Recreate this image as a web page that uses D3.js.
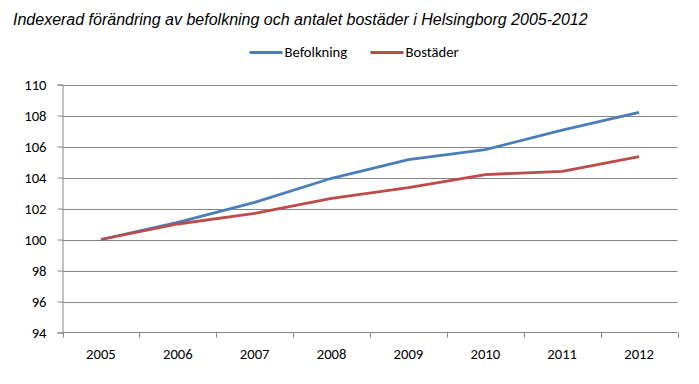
<!DOCTYPE html>
<html><head><meta charset="utf-8">
<script src="https://cdn.jsdelivr.net/npm/d3@7"></script>
<style>body{margin:0;background:#fff}svg{display:block}</style>
</head><body>
<svg id="c" width="699" height="384"></svg>
<script>
const years = ["2005","2006","2007","2008","2009","2010","2011","2012"];
const befolkning = [100, 101.1, 102.4, 103.95, 105.15, 105.8, 107.05, 108.2];
const bostader = [100, 101.0, 101.68, 102.66, 103.35, 104.19, 104.4, 105.35];
const yTicks = [94, 96, 98, 100, 102, 104, 106, 108, 110];
const seriesNames = ["Befolkning", "Bostäder"];
const colors = ["#4A7EBB", "#BE4B48"];

const svg = d3.select("#c");
const L = 62.5, R = 677.5, T = 84.5, B = 332.5;
const x = d3.scaleBand().domain(years).range([L, R]);
const y = d3.scaleLinear().domain([94, 110]).range([B, T]);
const font = "Calibri, Carlito, Lato, 'Open Sans', sans-serif";
const fs = 14.67;

svg.append("text").attr("x", 13).attr("y", 25)
  .attr("font-family", "Arial, 'Liberation Sans', sans-serif").attr("font-style", "italic")
  .attr("font-size", 16).attr("fill", "#000")
  .text("Indexerad förändring av befolkning och antalet bostäder i Helsingborg 2005-2012");

// gridlines
svg.append("g").selectAll("line").data(yTicks.filter(d => d !== 94)).join("line")
  .attr("x1", L).attr("x2", R).attr("y1", d => Math.round(y(d)) + 0.5).attr("y2", d => Math.round(y(d)) + 0.5)
  .attr("stroke", "#868686").attr("stroke-width", 1);

// y axis
const yAxis = d3.axisLeft(y).tickValues(yTicks).tickSize(5).tickPadding(11);
const gy = svg.append("g").attr("transform", `translate(${L},0)`).call(yAxis);
gy.select(".domain").attr("stroke", "#868686");
gy.selectAll(".tick line").attr("stroke", "#868686");
gy.selectAll(".tick text").attr("font-family", font).attr("font-size", fs).attr("fill", "#000");

// x axis
const xAxis = d3.axisBottom(x).tickSize(0).tickPadding(16);
const gx = svg.append("g").attr("transform", `translate(0,${B})`).call(xAxis);
gx.select(".domain").attr("stroke", "#868686").attr("d", `M${L},0H${R}`);
gx.selectAll(".tick text").attr("font-family", font).attr("font-size", fs).attr("fill", "#000");
const bounds = years.map(d => x(d)).concat([R]);
gx.selectAll(".bt").data(bounds).join("line").attr("class", "bt")
  .attr("x1", d => Math.round(d) + 0.5).attr("x2", d => Math.round(d) + 0.5)
  .attr("y1", 0).attr("y2", 5).attr("stroke", "#868686");

// lines
const line = d3.line().x((d, i) => x(years[i]) + x.bandwidth() / 2).y(d => y(d));
[befolkning, bostader].forEach((s, k) => {
  svg.append("path").datum(s).attr("d", line).attr("fill", "none")
    .attr("stroke", colors[k]).attr("stroke-width", 2.8).attr("stroke-linejoin", "round");
});

// legend
const lx = [249.5, 370.5];
seriesNames.forEach((n, k) => {
  svg.append("line").attr("x1", lx[k]).attr("x2", lx[k] + 33).attr("y1", 52.5).attr("y2", 52.5)
    .attr("stroke", colors[k]).attr("stroke-width", 2.8);
  svg.append("text").attr("x", lx[k] + 35).attr("y", 57).attr("font-family", font)
    .attr("font-size", fs).attr("fill", "#000").text(n);
});
</script>
</body></html>
